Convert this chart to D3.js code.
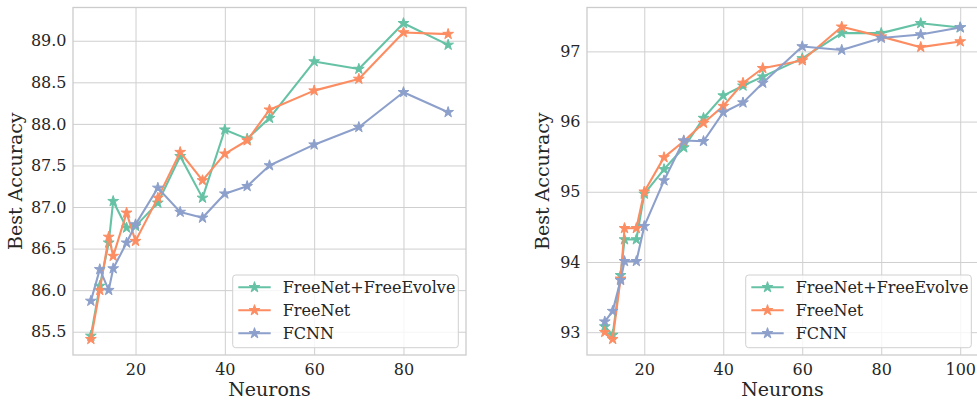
<!DOCTYPE html>
<html>
<head>
<meta charset="utf-8">
<script src="https://cdn.jsdelivr.net/npm/d3@7"></script>
<style>
  body { margin: 0; background: #fff; }
  text { font-family: "DejaVu Serif", serif; fill: #262626; }
</style>
</head>
<body>
<svg id="graph"></svg>
<script>
// left panel
var neuronsA = [10, 12, 14, 15, 18, 20, 25, 30, 35, 40, 45, 50, 60, 70, 80, 90];
var evolveA = [85.45, 86.05, 86.57, 87.07, 86.75, 86.77, 87.05, 87.61, 87.11, 87.93, 87.82, 88.07, 88.75, 88.66, 89.21, 88.95];
var freenetA = [85.41, 86.00, 86.64, 86.41, 86.93, 86.59, 87.11, 87.66, 87.32, 87.64, 87.80, 88.17, 88.40, 88.54, 89.10, 89.08];
var fcnnA = [85.87, 86.25, 86.00, 86.26, 86.57, 86.79, 87.23, 86.94, 86.87, 87.16, 87.25, 87.50, 87.75, 87.96, 88.38, 88.14];
var yTicksA = [85.5, 86.0, 86.5, 87.0, 87.5, 88.0, 88.5, 89.0];

// right panel
var neuronsB = [10, 12, 14, 15, 18, 20, 25, 30, 35, 40, 45, 50, 60, 70, 80, 90, 100];
var evolveB = [93.08, 92.96, 93.81, 94.32, 94.32, 94.97, 95.32, 95.63, 96.05, 96.37, 96.51, 96.64, 96.90, 97.26, 97.26, 97.40, 97.34];
var freenetB = [93.00, 92.90, 93.76, 94.48, 94.48, 95.00, 95.49, 95.72, 95.98, 96.22, 96.55, 96.76, 96.87, 97.35, 97.21, 97.06, 97.14];
var fcnnB = [93.15, 93.30, 93.74, 94.01, 94.01, 94.51, 95.16, 95.73, 95.72, 96.13, 96.27, 96.55, 97.07, 97.02, 97.19, 97.24, 97.34];
var yTicksB = [93, 94, 95, 96, 97];

var seriesNames = ["FreeNet+FreeEvolve", "FreeNet", "FCNN"];
var colors = ["#66c2a5", "#fc8d62", "#8da0cb"];

var svg = d3.select("#graph")
    .attr("width", 977)
    .attr("height", 400);

svg.append("rect").attr("width", 977).attr("height", 400).attr("fill", "#fff");

// matplotlib style 5% padding on data limits
function padded(ext) {
    var m = (ext[1] - ext[0]) * 0.05;
    return [ext[0] - m, ext[1] + m];
}

function panel(left, right, yLabelX, xs, ys, yTicks, yFmt, legendLeft) {
    var top = 7.5, bottom = 355;
    var all = d3.merge(ys);
    var x = d3.scaleLinear().domain(padded(d3.extent(xs))).range([left, right]);
    var y = d3.scaleLinear().domain(padded(d3.extent(all))).range([bottom, top]);
    var w = right - left, h = bottom - top;

    var xaxis = svg.append("g")
        .attr("transform", "translate(0," + bottom + ")")
        .call(d3.axisBottom(x).ticks(5).tickSizeInner(-h).tickSizeOuter(0).tickPadding(9));
    var yaxis = svg.append("g")
        .attr("transform", "translate(" + left + ",0)")
        .call(d3.axisLeft(y).tickValues(yTicks).tickFormat(d3.format(yFmt)).tickSizeInner(-w).tickSizeOuter(0).tickPadding(6.5));

    [xaxis, yaxis].forEach(function(a) {
        a.select(".domain").remove();
        a.selectAll("line").attr("stroke", "#cfcfcf").attr("stroke-width", 1);
        a.selectAll("text").attr("font-size", 16).attr("font-family", "DejaVu Serif").attr("fill", "#262626");
    });

    svg.append("rect")
        .attr("x", left).attr("y", top)
        .attr("width", w).attr("height", h)
        .attr("fill", "none")
        .attr("stroke", "#cccccc")
        .attr("stroke-width", 1.3);

    var line = d3.line()
        .x(function(d, i) { return x(xs[i]); })
        .y(function(d) { return y(d); });

    var star = d3.symbol().type(d3.symbolStar).size(36);

    ys.forEach(function(vals, k) {
        svg.append("path")
            .datum(vals)
            .attr("d", line)
            .attr("fill", "none")
            .attr("stroke", colors[k])
            .attr("stroke-width", 2.1)
            .attr("stroke-linejoin", "round");
        svg.selectAll(".m" + k + "-" + left)
          .data(vals)
          .enter().append("path")
            .attr("transform", function(d, i) { return "translate(" + x(xs[i]) + "," + y(d) + ")"; })
            .attr("d", star)
            .attr("fill", colors[k])
            .attr("stroke", colors[k])
            .attr("stroke-width", 1);
    });

    svg.append("text")
        .attr("x", (left + right) / 2)
        .attr("y", 396)
        .attr("text-anchor", "middle")
        .attr("font-size", 19)
        .text("Neurons");

    svg.append("text")
        .attr("transform", "translate(" + yLabelX + "," + (top + bottom) / 2 + ") rotate(-90)")
        .attr("text-anchor", "middle")
        .attr("font-size", 19)
        .text("Best Accuracy");

    // legend
    var lg = svg.append("g").attr("transform", "translate(" + legendLeft + ",275)");
    lg.append("rect")
        .attr("width", 225.6).attr("height", 72.7)
        .attr("rx", 3)
        .attr("fill", "#fff").attr("fill-opacity", 0.8)
        .attr("stroke", "#d0d0d0").attr("stroke-width", 1);
    seriesNames.forEach(function(name, k) {
        var cy = 12.3 + k * 23;
        lg.append("line")
            .attr("x1", 5.6).attr("x2", 38)
            .attr("y1", cy).attr("y2", cy)
            .attr("stroke", colors[k]).attr("stroke-width", 2.1);
        lg.append("path")
            .attr("transform", "translate(21.8," + cy + ")")
            .attr("d", star)
            .attr("fill", colors[k]).attr("stroke", colors[k]).attr("stroke-width", 1);
        lg.append("text")
            .attr("x", 50).attr("y", cy)
            .attr("dy", "0.35em")
            .attr("font-size", 16)
            .text(name);
    });
}

panel(73, 466, 22, neuronsA, [evolveA, freenetA, fcnnA], yTicksA, ".1f", 232.7);
panel(587, 978, 549, neuronsB, [evolveB, freenetB, fcnnB], yTicksB, "d", 745.7);
</script>
</body>
</html>
